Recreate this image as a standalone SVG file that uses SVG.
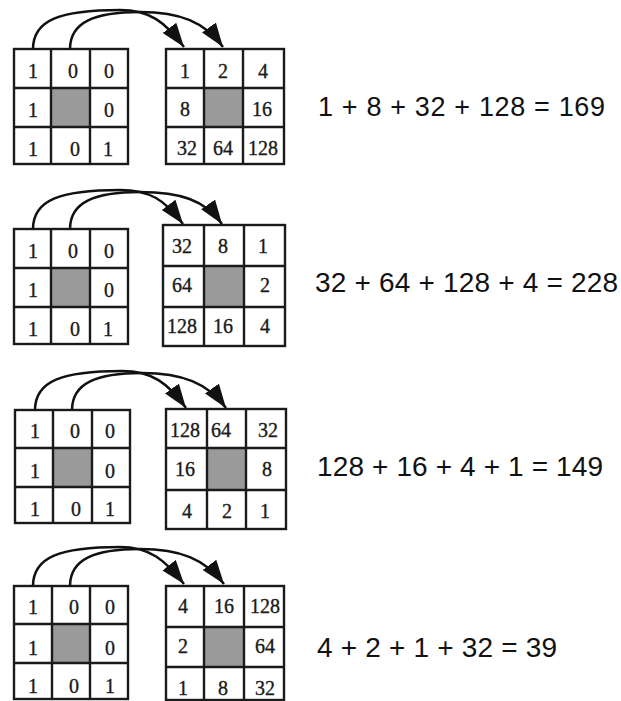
<svg xmlns="http://www.w3.org/2000/svg" width="621" height="701" viewBox="0 0 621 701">
<style>
.frame{fill:#fff;stroke:#1a1a1a;stroke-width:2.4}
.ln{stroke:#1a1a1a;stroke-width:2.4}
.gray{fill:#9a9a9a}
.n{font-family:"Liberation Serif","Times New Roman",serif;font-size:20px;fill:#1a1a1a;stroke:#1a1a1a;stroke-width:0.35;text-anchor:middle}
.eq{font-family:"Liberation Sans",Arial,sans-serif;font-size:27px;fill:#111}
.arc{fill:none;stroke:#111;stroke-width:2.5;marker-end:url(#ah)}
</style>
<defs>
<marker id="ah" markerUnits="userSpaceOnUse" markerWidth="26" markerHeight="18" refX="24" refY="8.5" orient="auto">
<path d="M0,0 L24,8.5 L0,17 z" fill="#111"/>
</marker>
</defs>
<rect width="621" height="701" fill="#fff"/>

<!-- Panel 1 -->
<g id="p1-left">
<rect class="frame" x="14" y="49" width="114" height="115"/>
<rect class="gray" x="51" y="88" width="39" height="39"/>
<path class="ln" d="M51,49V164M90,49V164M14,88H128M14,127H128"/>
<text class="n" x="33" y="78">1</text><text class="n" x="73" y="78">0</text><text class="n" x="109" y="78">0</text>
<text class="n" x="33" y="117">1</text><text class="n" x="109" y="117">0</text>
<text class="n" x="33" y="156">1</text><text class="n" x="75" y="156">0</text><text class="n" x="108" y="156">1</text>
</g>
<g id="p1-right">
<rect class="frame" x="166" y="49" width="118" height="115"/>
<rect class="gray" x="204" y="88" width="39" height="39"/>
<path class="ln" d="M204,49V164M243,49V164M166,88H284M166,127H284"/>
<text class="n" x="185" y="78">1</text><text class="n" x="223" y="78">2</text><text class="n" x="263" y="78">4</text>
<text class="n" x="185" y="116">8</text><text class="n" x="262" y="116">16</text>
<text class="n" x="187" y="155">32</text><text class="n" x="223" y="155">64</text><text class="n" x="263" y="155">128</text>
</g>
<g id="p1-eq"><text class="eq" x="318" y="116" textLength="287" lengthAdjust="spacing">1 + 8 + 32 + 128 = 169</text></g>

<!-- Panel 2 -->
<g id="p2-left">
<rect class="frame" x="14" y="229" width="114" height="115"/>
<rect class="gray" x="51" y="268" width="39" height="39"/>
<path class="ln" d="M51,229V344M90,229V344M14,268H128M14,307H128"/>
<text class="n" x="33" y="258">1</text><text class="n" x="73" y="258">0</text><text class="n" x="109" y="258">0</text>
<text class="n" x="33" y="297">1</text><text class="n" x="109" y="297">0</text>
<text class="n" x="33" y="336">1</text><text class="n" x="75" y="336">0</text><text class="n" x="108" y="336">1</text>
</g>
<g id="p2-right">
<rect class="frame" x="163" y="225" width="122" height="121"/>
<rect class="gray" x="204" y="266" width="40" height="41"/>
<path class="ln" d="M204,225V346M244,225V346M163,266H285M163,307H285"/>
<text class="n" x="182" y="253">32</text><text class="n" x="223" y="253">8</text><text class="n" x="263" y="253">1</text>
<text class="n" x="182" y="292">64</text><text class="n" x="265" y="292">2</text>
<text class="n" x="182" y="333">128</text><text class="n" x="223" y="333">16</text><text class="n" x="265" y="333">4</text>
</g>
<g id="p2-eq"><text class="eq" x="315" y="292" textLength="303" lengthAdjust="spacing" style="font-size:28px">32 + 64 + 128 + 4 = 228</text></g>

<!-- Panel 3 -->
<g id="p3-left">
<rect class="frame" x="15" y="410" width="115" height="113"/>
<rect class="gray" x="53" y="448" width="39" height="39"/>
<path class="ln" d="M53,410V523M92,410V523M15,448H130M15,487H130"/>
<text class="n" x="35" y="438">1</text><text class="n" x="75" y="438">0</text><text class="n" x="110" y="438">0</text>
<text class="n" x="35" y="478">1</text><text class="n" x="110" y="478">0</text>
<text class="n" x="35" y="516">1</text><text class="n" x="76" y="516">0</text><text class="n" x="110" y="516">1</text>
</g>
<g id="p3-right">
<rect class="frame" x="166" y="409" width="120" height="120"/>
<rect class="gray" x="207" y="448" width="39" height="42"/>
<path class="ln" d="M207,409V529M246,409V529M166,448H286M166,490H286"/>
<text class="n" x="185" y="437">128</text><text class="n" x="221" y="437">64</text><text class="n" x="268" y="437">32</text>
<text class="n" x="185" y="476">16</text><text class="n" x="267" y="476">8</text>
<text class="n" x="187" y="518">4</text><text class="n" x="227" y="518">2</text><text class="n" x="265" y="518">1</text>
</g>
<g id="p3-eq"><text class="eq" x="317" y="476" textLength="286" lengthAdjust="spacing" style="font-size:28px">128 + 16 + 4 + 1 = 149</text></g>

<!-- Panel 4 -->
<g id="p4-left">
<rect class="frame" x="14" y="586" width="114" height="113"/>
<rect class="gray" x="52" y="624" width="38" height="39"/>
<path class="ln" d="M52,586V699M90,586V699M14,624H128M14,663H128"/>
<text class="n" x="33" y="614">1</text><text class="n" x="74" y="614">0</text><text class="n" x="110" y="614">0</text>
<text class="n" x="33" y="655">1</text><text class="n" x="110" y="655">0</text>
<text class="n" x="33" y="693">1</text><text class="n" x="74" y="693">0</text><text class="n" x="110" y="693">1</text>
</g>
<g id="p4-right">
<rect class="frame" x="166" y="586" width="118" height="114"/>
<rect class="gray" x="204" y="627" width="40" height="40"/>
<path class="ln" d="M204,586V700M244,586V700M166,627H284M166,667H284"/>
<text class="n" x="183" y="613">4</text><text class="n" x="224" y="613">16</text><text class="n" x="265" y="613">128</text>
<text class="n" x="183" y="653">2</text><text class="n" x="265" y="653">64</text>
<text class="n" x="183" y="695">1</text><text class="n" x="223" y="695">8</text><text class="n" x="265" y="695">32</text>
</g>
<g id="p4-eq"><text class="eq" x="317" y="657" textLength="240" lengthAdjust="spacing" style="font-size:28px">4 + 2 + 1 + 32 = 39</text></g>

<g id="connectors">
<path class="arc" d="M33,49 C33,20 60,10 120,10 C150,10 165,22 184,47"/>
<path class="arc" d="M70,49 C70,22 95,12 140,12 C180,12 205,22 223,47"/>
<path class="arc" d="M33,229 C33,200 60,190 120,190 C150,190 165,200 183,224"/>
<path class="arc" d="M70,229 C70,202 95,192 140,192 C180,192 205,200 222,224"/>
<path class="arc" d="M35,410 C35,381 62,371 122,371 C152,371 168,383 186,408"/>
<path class="arc" d="M72,410 C72,383 97,373 142,373 C182,373 208,383 226,408"/>
<path class="arc" d="M33,586 C33,557 60,547 120,547 C150,547 165,560 184,584"/>
<path class="arc" d="M70,586 C70,559 95,549 140,549 C180,549 205,559 224,584"/>
</g>
</svg>
